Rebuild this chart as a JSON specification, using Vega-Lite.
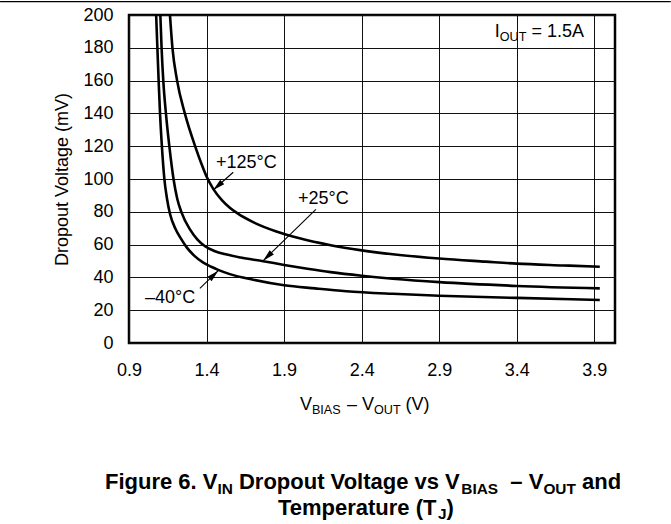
{
  "$schema": "https://vega.github.io/schema/vega-lite/v6.json",
  "width": 486,
  "height": 328,
  "autosize": {"type": "none"},
  "padding": {"left": 129, "top": 15, "right": 56, "bottom": 181},
  "background": "white",
  "config": {
    "font": "Liberation Sans",
    "view": {"stroke": "black", "strokeWidth": 2.5},
    "axis": {"labelColor": "black", "titleColor": "black", "labelFont": "Liberation Sans", "titleFont": "Liberation Sans"}
  },
  "datasets": {
    "curves": [
      {"T": "-40", "x": 1.075, "y": 200}, {"T": "-40", "x": 1.083, "y": 180}, {"T": "-40", "x": 1.091, "y": 160},
      {"T": "-40", "x": 1.1, "y": 140}, {"T": "-40", "x": 1.112, "y": 120}, {"T": "-40", "x": 1.128, "y": 100},
      {"T": "-40", "x": 1.145, "y": 88}, {"T": "-40", "x": 1.165, "y": 78.5}, {"T": "-40", "x": 1.2, "y": 69.5},
      {"T": "-40", "x": 1.235, "y": 63.6}, {"T": "-40", "x": 1.272, "y": 58.3}, {"T": "-40", "x": 1.32, "y": 53.3},
      {"T": "-40", "x": 1.379, "y": 49.0}, {"T": "-40", "x": 1.43, "y": 46.5}, {"T": "-40", "x": 1.475, "y": 44.6},
      {"T": "-40", "x": 1.55, "y": 42}, {"T": "-40", "x": 1.7, "y": 38.6}, {"T": "-40", "x": 1.9, "y": 35.2},
      {"T": "-40", "x": 2.1, "y": 33.3}, {"T": "-40", "x": 2.3, "y": 31.6}, {"T": "-40", "x": 2.6, "y": 30.0},
      {"T": "-40", "x": 2.9, "y": 28.8}, {"T": "-40", "x": 3.4, "y": 27.5}, {"T": "-40", "x": 3.935, "y": 26.2},
      {"T": "25", "x": 1.102, "y": 200}, {"T": "25", "x": 1.11, "y": 180}, {"T": "25", "x": 1.121, "y": 160},
      {"T": "25", "x": 1.138, "y": 140}, {"T": "25", "x": 1.16, "y": 120}, {"T": "25", "x": 1.187, "y": 100},
      {"T": "25", "x": 1.211, "y": 88}, {"T": "25", "x": 1.239, "y": 79.5}, {"T": "25", "x": 1.293, "y": 69.3},
      {"T": "25", "x": 1.34, "y": 63.2}, {"T": "25", "x": 1.39, "y": 59.0}, {"T": "25", "x": 1.45, "y": 56.1},
      {"T": "25", "x": 1.53, "y": 53.9}, {"T": "25", "x": 1.62, "y": 52.1}, {"T": "25", "x": 1.765, "y": 49.9},
      {"T": "25", "x": 1.9, "y": 47.6}, {"T": "25", "x": 2.05, "y": 45.3}, {"T": "25", "x": 2.2, "y": 43.2},
      {"T": "25", "x": 2.4, "y": 41.0}, {"T": "25", "x": 2.6, "y": 39.2}, {"T": "25", "x": 2.9, "y": 37.1},
      {"T": "25", "x": 3.4, "y": 34.8}, {"T": "25", "x": 3.935, "y": 33.3},
      {"T": "125", "x": 1.164, "y": 200}, {"T": "125", "x": 1.18, "y": 180}, {"T": "125", "x": 1.21, "y": 160},
      {"T": "125", "x": 1.26, "y": 140}, {"T": "125", "x": 1.33, "y": 119}, {"T": "125", "x": 1.37, "y": 108.5},
      {"T": "125", "x": 1.4, "y": 101.5}, {"T": "125", "x": 1.443, "y": 94}, {"T": "125", "x": 1.5, "y": 87},
      {"T": "125", "x": 1.55, "y": 82.5}, {"T": "125", "x": 1.6, "y": 79}, {"T": "125", "x": 1.7, "y": 73.7},
      {"T": "125", "x": 1.85, "y": 68}, {"T": "125", "x": 2.0, "y": 63.8}, {"T": "125", "x": 2.2, "y": 59.6},
      {"T": "125", "x": 2.4, "y": 56.5}, {"T": "125", "x": 2.6, "y": 54.1}, {"T": "125", "x": 2.9, "y": 51.5},
      {"T": "125", "x": 3.2, "y": 49.6}, {"T": "125", "x": 3.4, "y": 48.4}, {"T": "125", "x": 3.7, "y": 47.3},
      {"T": "125", "x": 3.935, "y": 46.5}
    ],
    "arrows": [
      {"id": "125", "x": 1.572, "y": 104.1, "x2": 1.443, "y2": 93.3},
      {"id": "25", "x": 2.105, "y": 81.5, "x2": 1.765, "y2": 50.2},
      {"id": "-40", "x": 1.357, "y": 33.35, "x2": 1.475, "y2": 44.1}
    ],
    "heads": [
      {"id": "125", "x": 1.443, "y": 93.3},
      {"id": "25", "x": 1.765, "y": 50.2},
      {"id": "-40", "x": 1.475, "y": 44.1}
    ],
    "labels": [
      {"t": "+125°C", "x": 1.4606, "y": 106.5},
      {"t": "+25°C", "x": 1.9889, "y": 84.76},
      {"t": "–40°C", "x": 1.0031, "y": 24.2},
      {"t": "I", "x": 3.2582, "y": 186.77},
      {"t": "= 1.5A", "x": 3.4941, "y": 186.77},
      {"t": "V", "x": 2.0018, "y": -40.85},
      {"t": "–\u00a0V", "x": 2.3053, "y": -40.85},
      {"t": "(V)", "x": 2.6829, "y": -40.85}
    ],
    "subs": [
      {"t": "OUT", "x": 3.2905, "y": 184.33},
      {"t": "BIAS", "x": 2.0791, "y": -43.29},
      {"t": "OUT", "x": 2.4793, "y": -43.29}
    ],
    "caption": [
      {"t": "Figure 6. V", "x": 0.7454, "y": -89.02},
      {"t": "Dropout Voltage vs V", "x": 1.6088, "y": -89.02},
      {"t": "–\u00a0V", "x": 3.3582, "y": -89.02},
      {"t": "and", "x": 3.8201, "y": -89.02},
      {"t": "Temperature (T", "x": 1.8601, "y": -104.88},
      {"t": ")", "x": 2.947, "y": -104.88}
    ],
    "captionSubs": [
      {"t": "IN", "x": 1.4702, "y": -91.77},
      {"t": "BIAS", "x": 3.0424, "y": -91.77},
      {"t": "OUT", "x": 3.5714, "y": -91.77},
      {"t": "J", "x": 2.8916, "y": -107.62}
    ],
    "pageRule": [
      {"x": 0.0688, "y": 208.1, "x2": 4.3923}
    ]
  },
  "encoding": {
    "x": {
      "field": "x", "type": "quantitative",
      "scale": {"domain": [0.9, 4.033], "nice": false, "zero": false},
      "axis": {
        "values": [0.9, 1.4, 1.9, 2.4, 2.9, 3.4, 3.9], "format": ".1f",
        "labelFontSize": 18, "labelPadding": 18.5, "ticks": false, "tickSize": 0, "domain": false,
        "grid": true, "gridColor": "#111111", "gridWidth": 1, "gridOpacity": 1, "title": null, "labelFlush": false
      }
    },
    "y": {
      "field": "y", "type": "quantitative",
      "scale": {"domain": [0, 200], "nice": false, "zero": false},
      "axis": {
        "values": [0, 20, 40, 60, 80, 100, 120, 140, 160, 180, 200],
        "labelFontSize": 18, "labelPadding": 16, "ticks": false, "tickSize": 0, "domain": false,
        "grid": true, "gridColor": "#111111", "gridWidth": 1, "gridOpacity": 1, "labelFlush": false,
        "title": "Dropout Voltage (mV)", "titleFontSize": 18, "titleFontWeight": "normal", "titlePadding": 11
      }
    }
  },
  "layer": [
    {
      "data": {"name": "curves"},
      "mark": {"type": "line", "color": "black", "strokeWidth": 2.6, "interpolate": "monotone"},
      "encoding": {"detail": {"field": "T", "type": "nominal"}}
    },
    {
      "data": {"name": "arrows"},
      "mark": {"type": "rule", "color": "black", "strokeWidth": 1.1},
      "encoding": {"x2": {"field": "x2"}, "y2": {"field": "y2"}}
    },
    {
      "data": {"name": "heads"},
      "transform": [{"filter": "datum.id == '125'"}],
      "mark": {"type": "point", "shape": "M0,0L0.5,2L-0.5,2Z", "size": 144, "filled": true, "color": "black", "opacity": 1, "angle": 228.5}
    },
    {
      "data": {"name": "heads"},
      "transform": [{"filter": "datum.id == '25'"}],
      "mark": {"type": "point", "shape": "M0,0L0.5,2L-0.5,2Z", "size": 144, "filled": true, "color": "black", "opacity": 1, "angle": 225.7}
    },
    {
      "data": {"name": "heads"},
      "transform": [{"filter": "datum.id == '-40'"}],
      "mark": {"type": "point", "shape": "M0,0L0.5,2L-0.5,2Z", "size": 144, "filled": true, "color": "black", "opacity": 1, "angle": 46.1}
    },
    {
      "data": {"name": "labels"},
      "mark": {"type": "text", "align": "left", "baseline": "alphabetic", "fontSize": 18, "color": "black"},
      "encoding": {"text": {"field": "t"}}
    },
    {
      "data": {"name": "subs"},
      "mark": {"type": "text", "align": "left", "baseline": "alphabetic", "fontSize": 12.6, "color": "black"},
      "encoding": {"text": {"field": "t"}}
    },
    {
      "data": {"name": "caption"},
      "mark": {"type": "text", "align": "left", "baseline": "alphabetic", "fontSize": 22, "fontWeight": "bold", "color": "black"},
      "encoding": {"text": {"field": "t"}}
    },
    {
      "data": {"name": "captionSubs"},
      "mark": {"type": "text", "align": "left", "baseline": "alphabetic", "fontSize": 15.4, "fontWeight": "bold", "color": "black"},
      "encoding": {"text": {"field": "t"}}
    },
    {
      "data": {"name": "pageRule"},
      "mark": {"type": "rule", "color": "black", "strokeWidth": 1.3},
      "encoding": {"x2": {"field": "x2"}}
    }
  ]
}
